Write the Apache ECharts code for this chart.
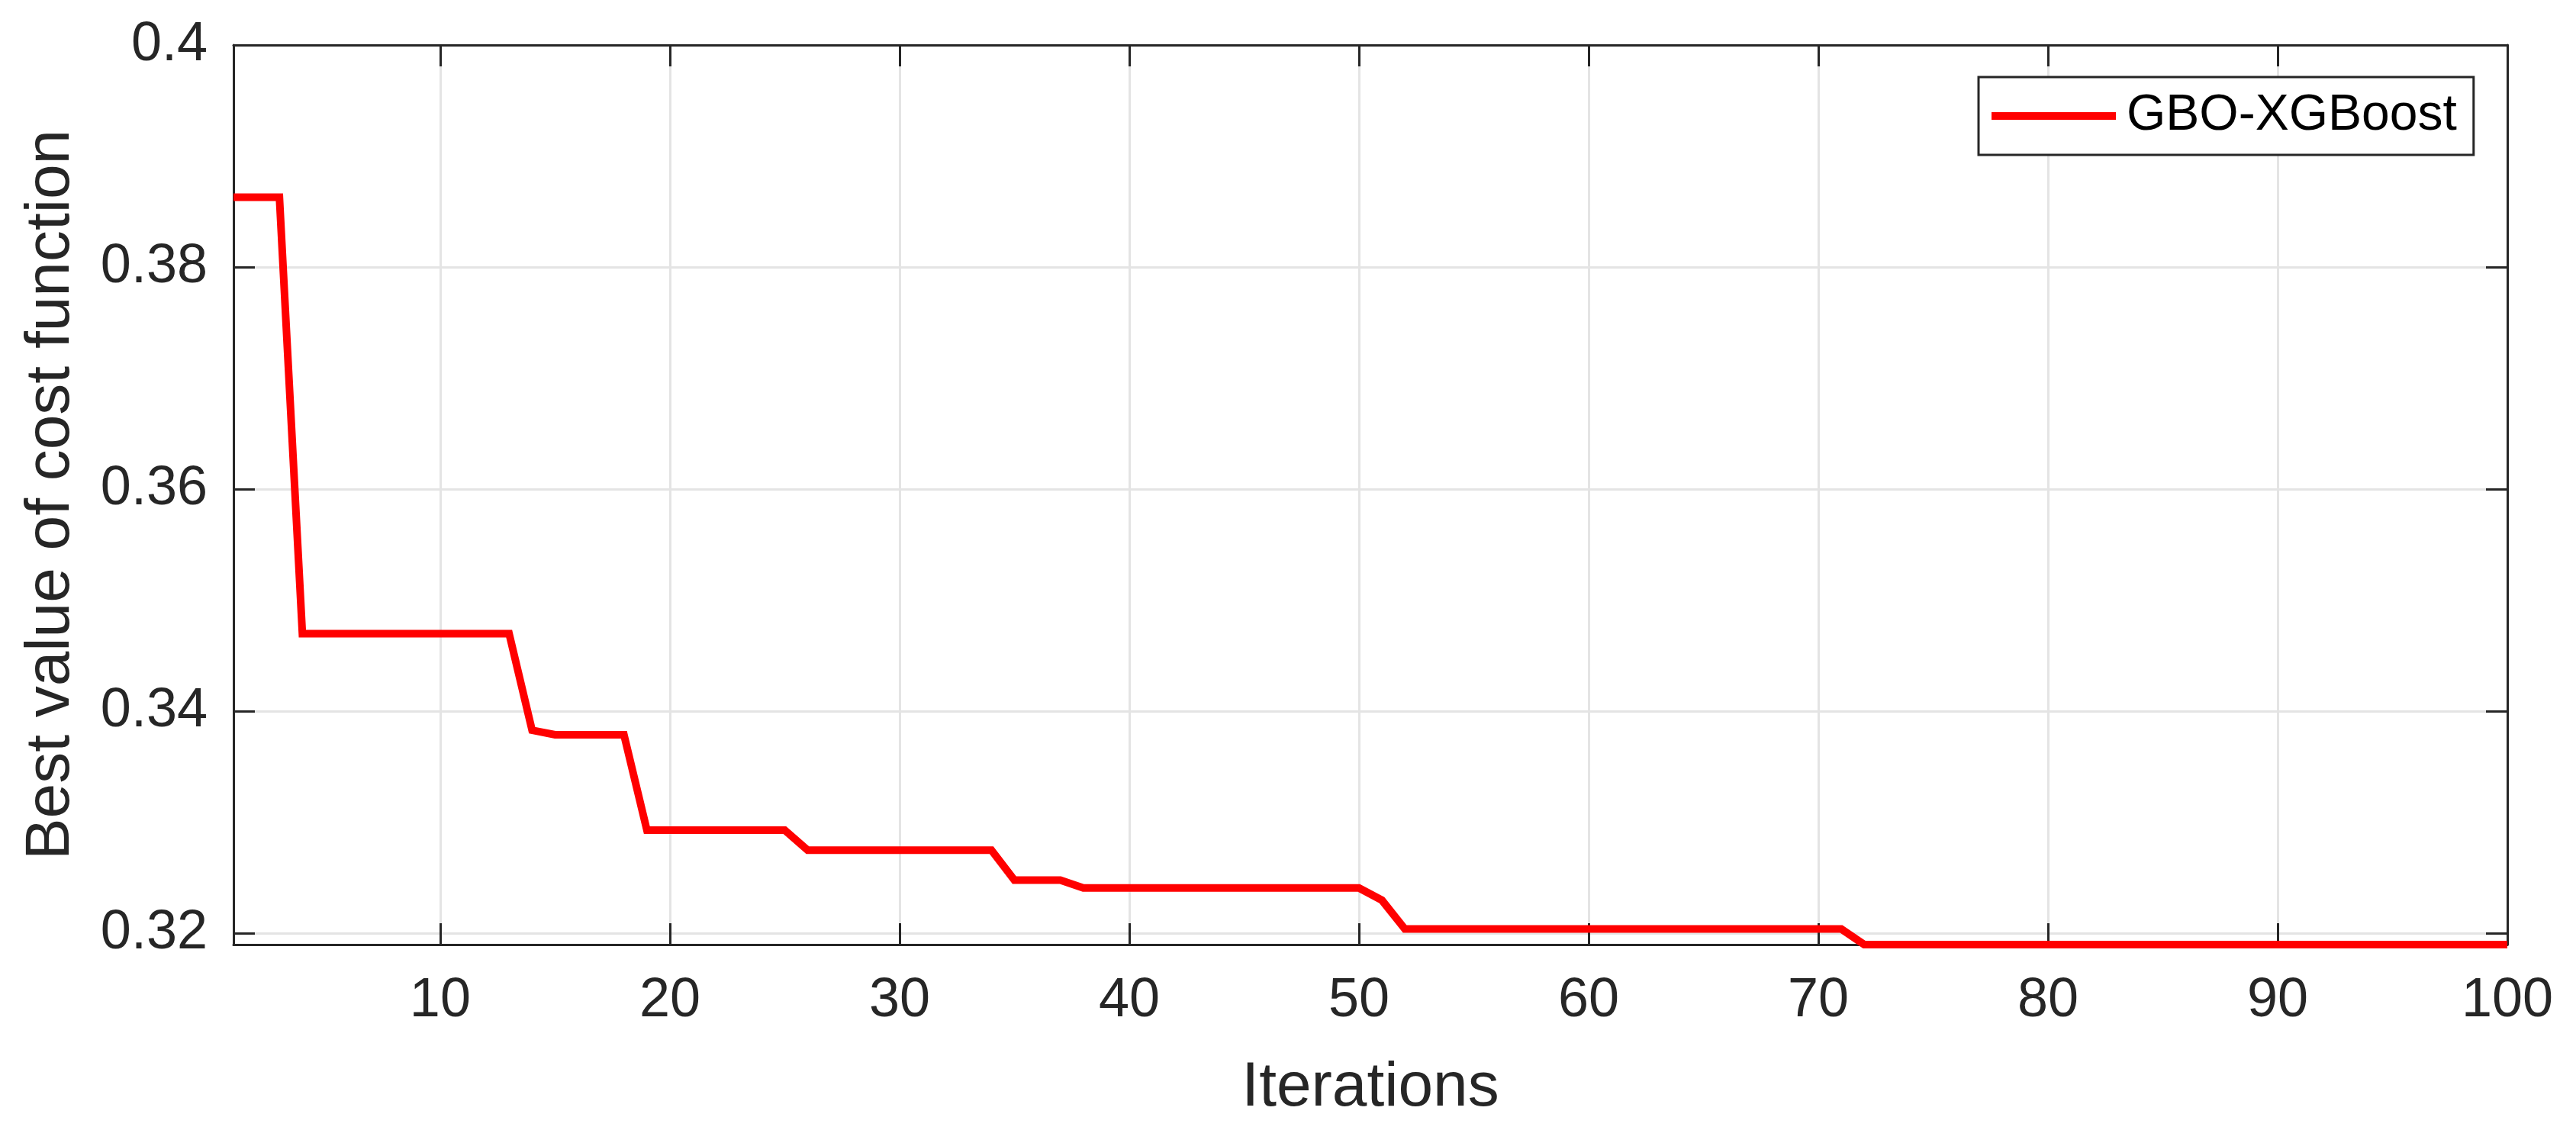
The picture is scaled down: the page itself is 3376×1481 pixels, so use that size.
<!DOCTYPE html>
<html>
<head>
<meta charset="utf-8">
<title>GBO-XGBoost convergence</title>
<script src="https://cdn.jsdelivr.net/npm/echarts@6.0.0/dist/echarts.min.js"></script>
<style>
html,body{margin:0;padding:0;background:#fff;}
#cost_line_echart{width:3376px;height:1481px;}
</style>
</head>
<body>
<div id="cost_line_echart"></div>
<script>
/*数据start*/
var cost_line_iterations = [];
for (var k = 1; k <= 100; k++) { cost_line_iterations.push(k); }
// best cost per iteration
var cost_line_values = [
    0.3863, 0.3863, 0.3863, 0.3470, 0.3470, 0.3470, 0.3470, 0.3470, 0.3470, 0.3470,
    0.3470, 0.3470, 0.3470, 0.3383, 0.3379, 0.3379, 0.3379, 0.3379, 0.3293, 0.3293,
    0.3293, 0.3293, 0.3293, 0.3293, 0.3293, 0.3275, 0.3275, 0.3275, 0.3275, 0.3275,
    0.3275, 0.3275, 0.3275, 0.3275, 0.3248, 0.3248, 0.3248, 0.3241, 0.3241, 0.3241,
    0.3241, 0.3241, 0.3241, 0.3241, 0.3241, 0.3241, 0.3241, 0.3241, 0.3241, 0.3241,
    0.3230, 0.3204, 0.3204, 0.3204, 0.3204, 0.3204, 0.3204, 0.3204, 0.3204, 0.3204,
    0.3204, 0.3204, 0.3204, 0.3204, 0.3204, 0.3204, 0.3204, 0.3204, 0.3204, 0.3204,
    0.3204, 0.3190, 0.3190, 0.3190, 0.3190, 0.3190, 0.3190, 0.3190, 0.3190, 0.3190,
    0.3190, 0.3190, 0.3190, 0.3190, 0.3190, 0.3190, 0.3190, 0.3190, 0.3190, 0.3190,
    0.3190, 0.3190, 0.3190, 0.3190, 0.3190, 0.3190, 0.3190, 0.3190, 0.3190, 0.3190
];
var cost_line_xticks = [10, 20, 30, 40, 50, 60, 70, 80, 90, 100];
var cost_line_yticks = [0.32, 0.34, 0.36, 0.38, 0.4];
var cost_line_xrange = [1, 100];
var cost_line_yrange = [0.319, 0.4];
var cost_line_name = "GBO-XGBoost";
/*数据end*/

/*收敛曲线start*/
var cost_line_dom = document.getElementById("cost_line_echart");
var cost_line_chart = echarts.init(cost_line_dom, null, {renderer: 'canvas'});
var axis_color = '#262626';
var grid_color = '#e4e4e4';
var font_name = '"Liberation Sans", Arial, Helvetica, sans-serif';

function boxAxis(pos, ticks, range, isMain, name, gap) {
    var ax = {
        type: 'value',
        position: pos,
        min: range[0],
        max: range[1],
        axisLine: {show: true, onZero: false, lineStyle: {color: axis_color, width: 3}},
        axisTick: {show: true, inside: true, length: 28, customValues: ticks,
            lineStyle: {color: axis_color, width: 3}},
        axisLabel: {show: false},
        splitLine: {show: false}
    };
    if (isMain) {
        ax.name = name;
        ax.nameLocation = 'middle';
        ax.nameGap = gap;
        ax.nameTextStyle = {color: axis_color, fontSize: 82, fontFamily: font_name};
        ax.axisLabel = {show: true, customValues: ticks, color: axis_color,
            fontSize: 72, fontFamily: font_name,
            margin: (pos === 'bottom') ? 38 : 34};
        ax.splitLine = {show: true, lineStyle: {color: grid_color, width: 3}};
    }
    return ax;
}

var cost_line_option = {
    animation: false,
    backgroundColor: '#fff',
    grid: {left: 306, right: 90, top: 59, bottom: 243, containLabel: false, outerBoundsMode: 'none'},
    legend: {
        show: true,
        left: 2593,
        top: 101,
        orient: 'horizontal',
        data: [{name: cost_line_name, icon: 'rect'}],
        itemWidth: 163,
        itemHeight: 10,
        padding: [18, 22, 18, 17],
        borderColor: axis_color,
        borderWidth: 3,
        backgroundColor: '#fff',
        textStyle: {color: '#000', fontSize: 66, fontFamily: font_name, lineHeight: 66,
            padding: [0, 0, 0, 9]}
    },
    xAxis: [
        boxAxis('bottom', cost_line_xticks, cost_line_xrange, true, 'Iterations', 147),
        boxAxis('top', cost_line_xticks, cost_line_xrange, false)
    ],
    yAxis: [
        boxAxis('left', cost_line_yticks, cost_line_yrange, true, 'Best value of cost function', 198),
        boxAxis('right', cost_line_yticks, cost_line_yrange, false)
    ],
    series: [
        {
            name: cost_line_name,
            type: 'line',
            xAxisIndex: 0,
            yAxisIndex: 0,
            data: cost_line_iterations.map(function (it, i) { return [it, cost_line_values[i]]; }),
            showSymbol: false,
            clip: false,
            z: 5,
            itemStyle: {color: '#ff0000'},
            lineStyle: {color: '#ff0000', width: 10, join: 'miter'}
        }
    ]
};
cost_line_chart.setOption(cost_line_option, true);
/*收敛曲线end*/
</script>
</body>
</html>
